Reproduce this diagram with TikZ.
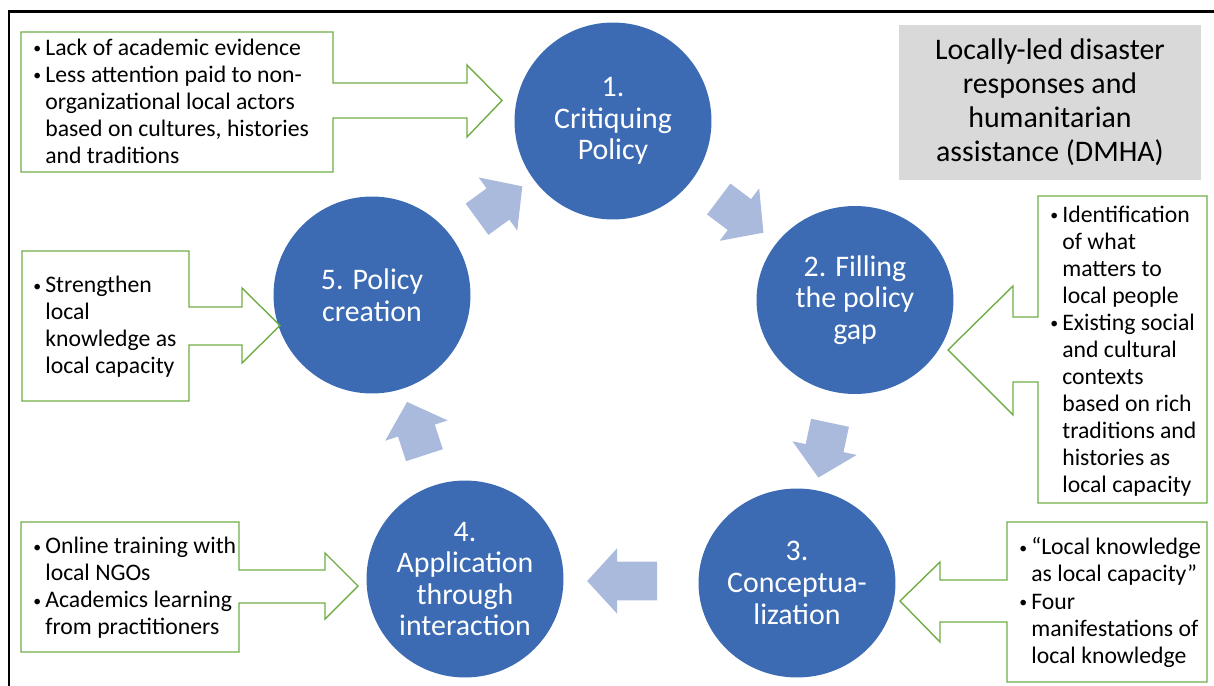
\documentclass[tikz,border=0pt]{standalone}
\usepackage{fontspec}
\setmainfont{Carlito}
\usetikzlibrary{calc,shapes.geometric,shapes.arrows}
\definecolor{circblue}{RGB}{60,107,180}
\definecolor{flowblue}{RGB}{169,186,220}
\definecolor{notegreen}{RGB}{112,173,71}
\definecolor{titlegray}{RGB}{217,217,217}
\newcommand{\bl}{\makebox[0.24cm][l]{\raisebox{0.15ex}{\fontsize{9}{9}\selectfont\textbullet}}}
\newcommand{\ind}{\hspace*{0.24cm}}

\begin{document}
\begin{tikzpicture}[x=0.02cm,y=-0.02cm,
  stage/.style={ellipse,fill=circblue,text=white,align=center,inner sep=-0.6cm,
                font=\fontsize{17}{18}\selectfont,minimum width=3.94cm,minimum height=3.94cm},
  flow/.style={single arrow,fill=flowblue,inner xsep=0pt,inner ysep=0.38cm,
               single arrow head extend=0.27cm,single arrow tip angle=95,minimum height=1.12cm},
  callout/.style={draw=notegreen,line width=0.8pt,line join=miter},
  note/.style={anchor=west,align=left,inner sep=0pt,font=\fontsize{13.5}{15.4}\selectfont},
  title/.style={fill=titlegray,minimum width=6.04cm,minimum height=3.1cm,align=center,
                font=\fontsize{17}{19.4}\selectfont},
  frame/.style={line width=1.4pt}]
  \useasboundingbox (0,0) rectangle (1214,686);
  \draw[frame] (9,686) -- (9,11.5) -- (1214,11.5);

  \node[title] (hd) at (1050,102.5) {Locally-led disaster\\responses and\\humanitarian\\assistance (DMHA)};

  \node[stage] (c1) at (613,121) {1.\\Critiquing\\Policy};
  \node[stage,minimum height=3.76cm] (c2) at (855,300) {2. Filling\\the policy\\gap};
  \node[stage,minimum height=3.78cm] (c3) at (797,583) {3.\\Conceptua-\\lization};
  \node[stage] (c4) at (465,579) {4.\\Application\\through\\interaction};
  \node[stage] (c5) at (372,295) {5. Policy\\creation};

  \node[flow,rotate=36] (f51) at ($(c5)!0.5!(c1)$) {};
  \node[flow,rotate=-37] (f12) at ($(c1)!0.5!(c2)$) {};
  \node[flow,rotate=-102] (f23) at ($(c2)!0.5!(c3)$) {};
  \node[flow,rotate=180,minimum height=1.4cm] (f34) at ($(c3)!0.5!(c4)$) {};
  \node[flow,rotate=108] (f45) at ($(c4)!0.5!(c5)$) {};

  \draw[callout] (21,32) -- (333,32) -- (333,83) -- (467,83) -- (467,65) -- (502,100.5)
    -- (467,137) -- (467,118) -- (333,118) -- (333,172) -- (21,172) -- cycle;
  \node[note] (nA) at (33,101) {\bl Lack of academic evidence\\
    \bl Less attention paid to non-\\ \ind organizational local actors\\
    \ind based on cultures, histories\\ \ind and traditions};

  \draw[callout] (22,251) -- (189,251) -- (189,307) -- (242,307) -- (242,288) -- (280,325.5)
    -- (242,363) -- (242,345) -- (189,345) -- (189,401) -- (22,401) -- cycle;
  \node[note] (nB) at (33,327) {\bl Strengthen\\ \ind local\\ \ind knowledge as\\ \ind local capacity};

  \draw[callout] (21,522) -- (239,522) -- (239,570) -- (325,570) -- (325,553) -- (358,586)
    -- (325,619) -- (325,603) -- (239,603) -- (239,652) -- (21,652) -- cycle;
  \node[note] (nC) at (33,588) {\bl Online training with\\ \ind local NGOs\\
    \bl Academics learning\\ \ind from practitioners};

  \draw[callout] (1038,196) -- (1207,196) -- (1207,503) -- (1038,503) -- (1038,382) -- (1013,382)
    -- (1013,415) -- (948,350) -- (1013,286) -- (1013,317) -- (1038,317) -- cycle;
  \node[note] (nD) at (1050,351) {\bl Identification\\ \ind of what\\ \ind matters to\\
    \ind local people\\ \bl Existing social\\ \ind and cultural\\ \ind contexts\\
    \ind based on rich\\ \ind traditions and\\ \ind histories as\\ \ind local capacity};

  \draw[callout] (1007,522) -- (1207,522) -- (1207,682) -- (1007,682) -- (1007,622) -- (940,622)
    -- (940,642) -- (900,601) -- (940,562) -- (940,580) -- (1007,580) -- cycle;
  \node[note] (nE) at (1019,602.5) {\bl “Local knowledge\\ \ind as local capacity”\\
    \bl Four\\ \ind manifestations of\\ \ind local knowledge};
\end{tikzpicture}
\end{document}
